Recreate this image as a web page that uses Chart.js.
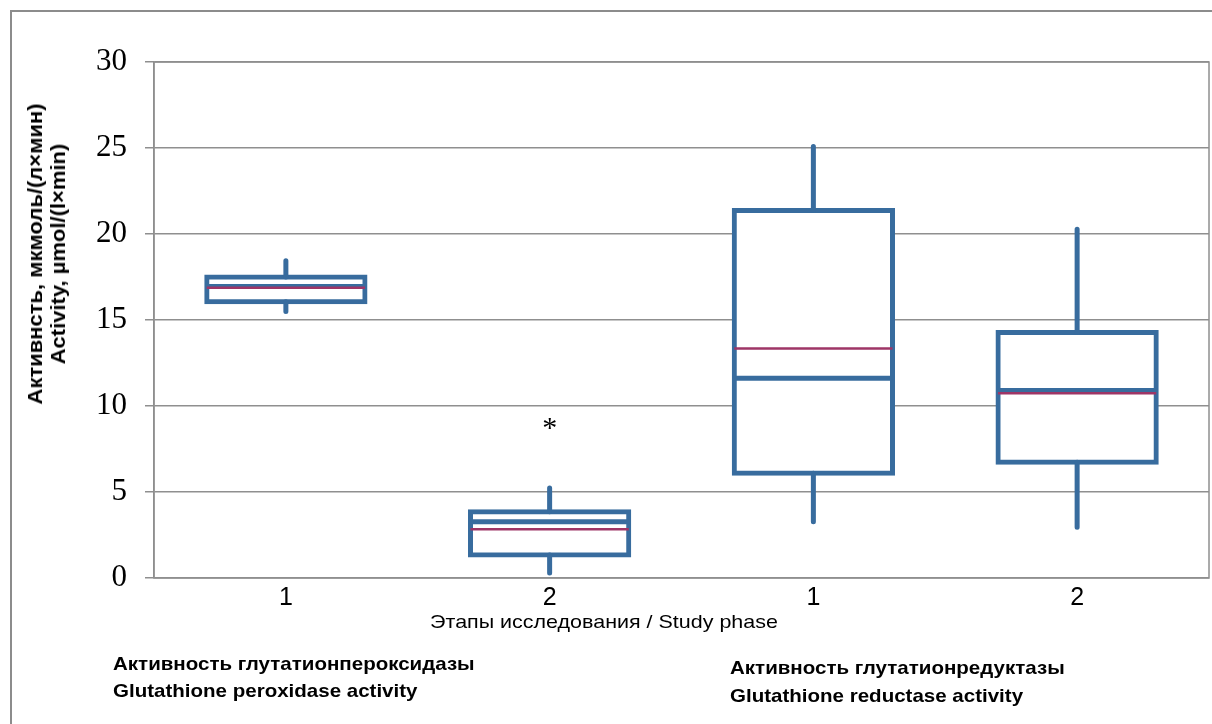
<!DOCTYPE html>
<html>
<head>
<meta charset="utf-8">
<script src="https://cdn.jsdelivr.net/npm/chart.js@4.4.1/dist/chart.umd.min.js"></script>
<style>
  body { margin: 0; background: #fff; }
  #wrap { position: relative; width: 1212px; height: 724px; overflow: hidden; }
  #frame { position: absolute; left: 10px; top: 10px; width: 1300px; height: 800px; border: 2px solid #8c8c8c; box-sizing: border-box; }
  canvas { position: absolute; left: 0; top: 0; }
  .note { position: absolute; font-family: "Liberation Sans", Arial, sans-serif; font-weight: bold; font-size: 19px; color: #000;
    white-space: nowrap; transform-origin: left center; transform: scaleX(1.08); }
  #ytitle { position: absolute; left: 47px; top: 254px; transform: translate(-50%, -50%) rotate(-90deg) scaleX(1.1);
    font-family: "Liberation Sans", Arial, sans-serif; font-weight: bold; font-size: 20px; line-height: 23px; text-align: center; white-space: nowrap; }
  #xtitle { position: absolute; left: 604px; top: 622px; transform: translate(-50%, -50%) scaleX(1.13);
    font-family: "Liberation Sans", Arial, sans-serif; font-size: 19px; white-space: nowrap; }
</style>
</head>
<body>
<div id="wrap">
  <div id="frame"></div>
  <canvas id="boxChart" width="1212" height="724"></canvas>
  <div id="ytitle">Активнсть, мкмоль/(л×мин)<br>Activity, µmol/(l×min)</div>
  <div id="xtitle">Этапы исследования / Study phase</div>
  <div class="note" style="left:113px; top:653px;">Активность глутатионпероксидазы</div>
  <div class="note" style="left:113px; top:680px;">Glutathione peroxidase activity</div>
  <div class="note" style="left:730px; top:657px;">Активность глутатионредуктазы</div>
  <div class="note" style="left:730px; top:685px;">Glutathione reductase activity</div>
</div>
<script>
// study phases (first two: peroxidase, last two: reductase)
const phases = ['1', '2', '1', '2'];
const q1 = [16.06, 1.34, 6.09, 6.73];
const q3 = [17.5, 3.85, 21.36, 14.28];
const medians = [16.95, 3.27, 11.61, 10.9];
const means = [16.88, 2.83, 13.35, 10.74];
const mins = [15.5, 0.29, 3.27, 2.95];
const maxs = [18.45, 5.23, 25.08, 20.27];
const outliers = [[], [8.9], [], []];
const yTicks = [0, 5, 10, 15, 20, 25, 30];

const boxBlue = '#386c9e';
const meanRed = '#9e3566';
const gridGray = '#8f8f8f';

// whiskers, medians, means and outliers on top of the bar boxes
const boxExtras = {
  id: 'boxExtras',
  afterDatasetsDraw(chart) {
    const {ctx, scales: {x, y}} = chart;
    const meta = chart.getDatasetMeta(0);
    ctx.save();
    phases.forEach((p, i) => {
      const bar = meta.data[i];
      const cx = x.getPixelForValue(i);
      const half = bar.width / 2;
      ctx.strokeStyle = boxBlue;
      ctx.lineWidth = 5;
      ctx.lineCap = 'round';
      ctx.beginPath();
      ctx.moveTo(cx, y.getPixelForValue(q3[i]));
      ctx.lineTo(cx, y.getPixelForValue(maxs[i]));
      ctx.moveTo(cx, y.getPixelForValue(q1[i]));
      ctx.lineTo(cx, y.getPixelForValue(mins[i]));
      ctx.stroke();
      ctx.lineCap = 'butt';
      ctx.beginPath();
      ctx.moveTo(cx - half, y.getPixelForValue(medians[i]));
      ctx.lineTo(cx + half, y.getPixelForValue(medians[i]));
      ctx.stroke();
      ctx.strokeStyle = meanRed;
      ctx.lineWidth = 2.5;
      ctx.beginPath();
      ctx.moveTo(cx - half, y.getPixelForValue(means[i]));
      ctx.lineTo(cx + half, y.getPixelForValue(means[i]));
      ctx.stroke();
      ctx.fillStyle = '#000';
      ctx.font = '30px "Liberation Serif", "Times New Roman", serif';
      ctx.textAlign = 'center';
      ctx.textBaseline = 'alphabetic';
      outliers[i].forEach(v => {
        ctx.fillText('*', cx, y.getPixelForValue(v) + 12);
      });
    });
    // plot area frame (top and right)
    const a = chart.chartArea;
    ctx.strokeStyle = gridGray;
    ctx.lineWidth = 1.5;
    ctx.strokeRect(a.left, a.top, a.right - a.left, a.bottom - a.top);
    ctx.restore();
  }
};

new Chart(document.getElementById('boxChart'), {
  type: 'bar',
  data: {
    labels: phases,
    datasets: [{
      label: 'box',
      data: q1.map((v, i) => [v, q3[i]]),
      backgroundColor: '#ffffff',
      borderColor: boxBlue,
      borderWidth: 5,
      borderSkipped: false,
      inflateAmount: 2.5,
      barPercentage: 0.6,
      categoryPercentage: 1
    }]
  },
  options: {
    responsive: false,
    animation: false,
    layout: {padding: {top: 62, right: 3, left: 0, bottom: 110}},
    plugins: {legend: {display: false}, tooltip: {enabled: false}},
    scales: {
      x: {
        grid: {display: false},
        border: {display: false},
        ticks: {
          padding: -3,
          color: '#000',
          font: {family: '"Liberation Sans", Arial, sans-serif', size: 25}
        },
        afterFit(scale) { scale.height = 36; }
      },
      y: {
        min: 0,
        max: 30,
        afterBuildTicks(scale) { scale.ticks = yTicks.map(v => ({value: v})); },
        afterFit(scale) { scale.width = 154; },
        grid: {color: gridGray, lineWidth: 1.5, tickLength: 9},
        border: {color: gridGray, width: 1.5},
        ticks: {
          padding: 18,
          color: '#000',
          font: {family: '"Liberation Serif", "Times New Roman", serif', size: 31}
        }
      }
    }
  },
  plugins: [boxExtras]
});
</script>
</body>
</html>
